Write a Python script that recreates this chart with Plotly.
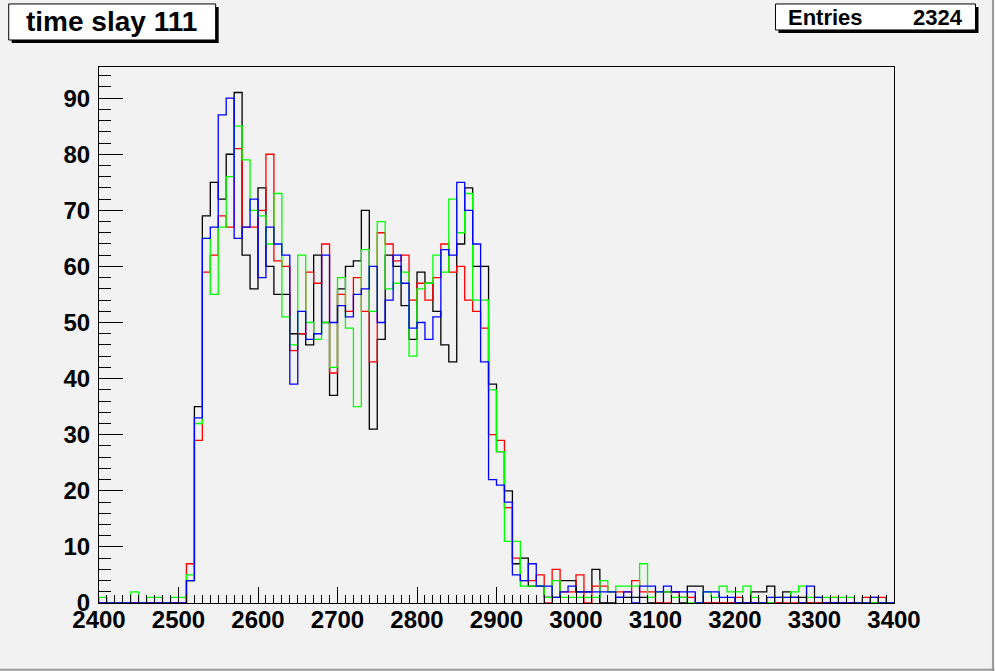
import plotly.graph_objects as go

# ---- data (10-unit bins from 2400 to 3400) ----
bin_starts = [2400 + 10 * i for i in range(100)]
x_max = 3400

black = [0, 0, 0, 0, 0, 0, 0, 0, 0, 0,
         0, 4, 35, 69, 75, 72, 80, 91, 62, 56,
         74, 60, 55, 55, 48, 48, 46, 62, 50, 37,
         56, 60, 61, 70, 31, 47, 62, 60, 53, 47,
         59, 57, 52, 46, 43, 64, 74, 60, 60, 39,
         27, 20, 7, 8, 3, 3, 1, 1, 4, 4,
         2, 2, 6, 0, 0, 1, 1, 1, 1, 0,
         0, 2, 2, 0, 3, 3, 0, 0, 0, 0,
         0, 0, 2, 2, 3, 0, 2, 1, 1, 0,
         0, 0, 0, 0, 0, 0, 0, 0, 0, 0]

red = [0, 0, 0, 0, 0, 0, 0, 0, 0, 0,
       0, 7, 29, 59, 62, 69, 67, 81, 67, 67,
       70, 80, 61, 60, 45, 48, 59, 57, 64, 41,
       55, 52, 58, 52, 43, 66, 64, 61, 62, 54,
       57, 54, 58, 64, 59, 60, 54, 52, 49, 30,
       29, 17, 8, 4, 4, 5, 0, 6, 2, 2,
       5, 0, 3, 3, 2, 2, 2, 4, 2, 2,
       0, 0, 2, 1, 1, 0, 0, 0, 0, 0,
       1, 0, 0, 0, 0, 0, 0, 0, 0, 0,
       0, 0, 1, 0, 0, 0, 1, 1, 1, 0]

green = [1, 0, 0, 0, 2, 0, 1, 1, 0, 1,
         1, 5, 32, 65, 55, 67, 76, 85, 79, 70,
         69, 64, 73, 51, 46, 62, 50, 47, 50, 42,
         58, 49, 35, 63, 52, 68, 56, 57, 59, 44,
         56, 57, 62, 59, 72, 66, 73, 54, 54, 38,
         27, 11, 11, 3, 3, 3, 1, 4, 1, 1,
         1, 1, 1, 4, 2, 3, 3, 3, 7, 1,
         2, 2, 1, 1, 0, 0, 2, 1, 3, 2,
         2, 3, 1, 0, 0, 1, 1, 2, 3, 1,
         1, 1, 1, 1, 1, 0, 0, 0, 0, 0]

blue = [0, 0, 0, 0, 0, 0, 0, 0, 0, 0,
        0, 4, 33, 65, 67, 87, 90, 65, 67, 72,
        58, 67, 64, 62, 39, 52, 47, 48, 62, 50,
        53, 51, 55, 56, 60, 50, 54, 62, 57, 49,
        50, 47, 51, 63, 62, 75, 70, 64, 43, 22,
        21, 18, 5, 4, 7, 3, 3, 1, 2, 3,
        2, 2, 2, 2, 2, 1, 2, 0, 3, 3,
        2, 3, 2, 2, 2, 0, 2, 2, 1, 1,
        0, 0, 0, 0, 1, 1, 1, 1, 0, 3,
        1, 0, 0, 0, 0, 0, 0, 1, 0, 0]

x_ticks = [2400, 2500, 2600, 2700, 2800, 2900, 3000, 3100, 3200, 3300, 3400]
y_ticks = [0, 10, 20, 30, 40, 50, 60, 70, 80, 90]
title_text = "time slay 111"
stats_label = "Entries"
stats_value = "2324"

series = [("black", black, "#000000"), ("red", red, "#ff0000"),
          ("green", green, "#00ff00"), ("blue", blue, "#0000ff")]

# ---- layout geometry (pixels) ----
W, H = 995, 671
L, R, T, B = 99.3, 894.5, 67.0, 602.7
BG = "#f2f2f2"
FONT = "Liberation Sans"


def px(x):
    return (x - L) / (R - L)


def py(y):
    return (B - y) / (B - T)


fig = go.Figure()
for name, vals, col in series:
    xs = [bin_starts[0]] + bin_starts + [x_max, x_max]
    ys = [0] + vals + [vals[-1], 0]
    fig.add_trace(go.Scatter(x=xs, y=ys, mode="lines", name=name,
                             line=dict(color=col, width=1.3, shape="hv"),
                             hoverinfo="skip", showlegend=False))

ymax = max(black) * 1.05

shapes = []
# title box with shadow
shapes.append(dict(type="rect", xref="paper", yref="paper",
                   x0=px(12), x1=px(219), y0=py(43), y1=py(7),
                   fillcolor="#000000", line=dict(width=0), layer="above"))
shapes.append(dict(type="rect", xref="paper", yref="paper",
                   x0=px(9), x1=px(216), y0=py(40), y1=py(4),
                   fillcolor="#ffffff", line=dict(color="#000000", width=1), layer="above"))
# stats box with shadow
shapes.append(dict(type="rect", xref="paper", yref="paper",
                   x0=px(779), x1=px(979), y0=py(33), y1=py(7),
                   fillcolor="#000000", line=dict(width=0), layer="above"))
shapes.append(dict(type="rect", xref="paper", yref="paper",
                   x0=px(776), x1=px(976), y0=py(30), y1=py(4),
                   fillcolor="#ffffff", line=dict(color="#000000", width=1), layer="above"))
# canvas bevel
shapes.append(dict(type="line", xref="paper", yref="paper",
                   x0=px(0), x1=px(995), y0=py(669.5), y1=py(669.5),
                   line=dict(color="#9a9a9a", width=2), layer="above"))
shapes.append(dict(type="line", xref="paper", yref="paper",
                   x0=px(993.5), x1=px(993.5), y0=py(0), y1=py(671),
                   line=dict(color="#9a9a9a", width=2), layer="above"))

annotations = [
    dict(text=title_text, xref="paper", yref="paper", x=px(24), y=py(22),
         xanchor="left", yanchor="middle", showarrow=False,
         font=dict(family=FONT, size=28, color="#000000", weight="bold")),
    dict(text=stats_label, xref="paper", yref="paper", x=px(786), y=py(17.5),
         xanchor="left", yanchor="middle", showarrow=False,
         font=dict(family=FONT, size=22, color="#000000", weight="bold")),
    dict(text=stats_value, xref="paper", yref="paper", x=px(966), y=py(17.5),
         xanchor="right", yanchor="middle", showarrow=False,
         font=dict(family=FONT, size=22, color="#000000", weight="bold")),
]

fig.update_layout(
    width=W, height=H,
    margin=dict(l=L, r=W - R, t=T, b=H - B, autoexpand=False),
    paper_bgcolor=BG, plot_bgcolor=BG,
    shapes=shapes, annotations=annotations,
    showlegend=False,
    font=dict(family=FONT, color="#000000"),
    xaxis=dict(range=[x_ticks[0], x_ticks[-1]], tickmode="array", tickvals=x_ticks,
               ticktext=[str(v) for v in x_ticks],
               showgrid=False, zeroline=False, showline=True, mirror=True,
               linecolor="#000000", linewidth=1,
               ticks="inside", ticklen=16, tickwidth=1, tickcolor="#000000",
               ticklabelstandoff=-5,
               tickfont=dict(family=FONT, size=24, color="#000000", weight="bold"),
               minor=dict(dtick=10, ticks="inside", ticklen=8, tickwidth=1,
                          tickcolor="#000000", showgrid=False)),
    yaxis=dict(range=[0, ymax], tickmode="array", tickvals=y_ticks,
               ticktext=[str(v) for v in y_ticks],
               showgrid=False, zeroline=False, showline=True, mirror=True,
               linecolor="#000000", linewidth=1,
               ticks="inside", ticklen=24, tickwidth=1, tickcolor="#000000",
               ticklabelstandoff=3,
               tickfont=dict(family=FONT, size=24, color="#000000", weight="bold"),
               minor=dict(dtick=2, tick0=0, ticks="inside", ticklen=12, tickwidth=1,
                          tickcolor="#000000", showgrid=False)),
)

fig.write_html("out.html",
               config={"displayModeBar": False},
               post_script="document.body.style.margin='0';"
                           "document.body.style.background='" + BG + "';")
